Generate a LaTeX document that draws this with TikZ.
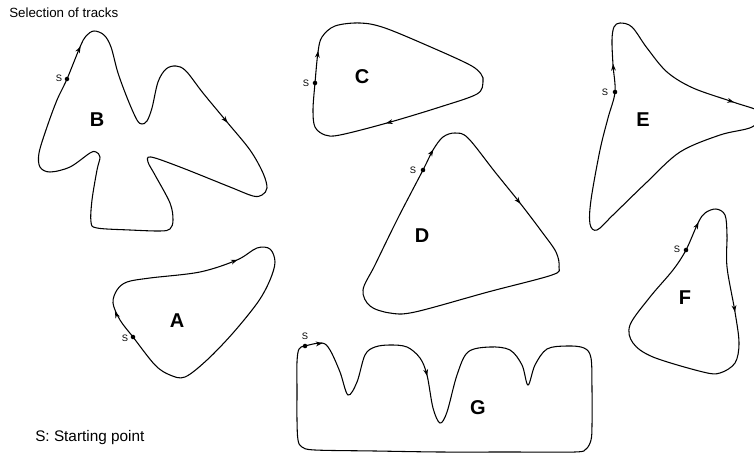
\documentclass[tikz,border=0pt]{standalone}
\usepackage{fontspec}
\setmainfont{Liberation Sans}
\usetikzlibrary{arrows.meta}

\begin{document}
\begin{tikzpicture}[
    % one unit = one pixel of the sheet, y pointing down
    x=0.75pt, y=-0.75pt,
    % closed outline of a track
    track/.style={
        draw=black,
        line width=0.8pt,
        smooth cycle,
        tension=0.55
    },
    % driving direction marks
    heading/.style={
        -{Stealth[length=5pt, width=3.6pt]},
        line width=0.8pt
    },
    % starting point dot and its letter
    startdot/.style={circle, fill=black, inner sep=0pt, minimum size=3.4pt},
    slabel/.style={font=\fontsize{7}{7}\selectfont, inner sep=0pt},
    % big letter naming a track
    trackname/.style={font=\bfseries\fontsize{15}{15}\selectfont},
    caption/.style={anchor=west, inner sep=0pt}
]
\useasboundingbox (0,0) rectangle (754,453);

% ==============================
% Titles
% ==============================
\node[caption, font=\fontsize{10}{10}\selectfont] (title) at (9,13) {Selection of tracks};
\node[caption, font=\fontsize{11.5}{11.5}\selectfont] (legend) at (35,438) {S: Starting point};

% ==============================
% Track B
% ==============================
\draw[track] plot coordinates {(67,79) (80,47) (86,36) (94,31) (104,35) (111,47)
    (118,73) (128,100) (137,120) (142,124) (147,121) (152,108) (158,82) (166,69)
    (176,66) (186,71) (203,93) (227,122) (250,150) (263,173) (267,188) (262,195)
    (253,196) (230,187) (180,167) (151,157) (148,162) (155,175) (170,203) (173,220)
    (170,229) (160,231) (130,230) (97,228) (91,222) (92,200) (97,170) (100,157)
    (96,152) (90,153) (70,167) (50,172) (40,167) (39,153) (47,127) (57,100)};
\node[startdot] (sB) at (67,79) {};
\node[slabel] at (59,78) {S};
\draw[heading] (78.5,50.5) -- (80.6,46.4);
\draw[heading] (224.5,119) -- (227.6,122.7);
\node[trackname] (labB) at (97,120) {B};

% ==============================
% Track A
% ==============================
\draw[track] plot coordinates {(133,337) (120,320) (113,303) (117,290) (127,282)
    (150,278) (200,272) (237,260) (257,248) (270,249) (275,262) (270,280)
    (258,302) (233,333) (207,360) (185,377) (170,375) (155,365)};
\node[startdot] (sA) at (133,337) {};
\node[slabel] at (125,338) {S};
\draw[heading] (116.8,315.5) -- (114.9,311.5);
\draw[heading] (233,261.5) -- (237.5,259.8);
\node[trackname] (labA) at (177,321) {A};

% ==============================
% Track C
% ==============================
\draw[track] plot coordinates {(315,83) (318,52) (322,37) (335,26) (360,23)
    (385,28) (433,48) (470,65) (481,74) (483,82) (477,94) (440,107) (387,123)
    (340,135) (325,135) (315,127) (313,110)};
\node[startdot] (sC) at (315,83) {};
\node[slabel] at (306,83) {S};
\draw[heading] (317.5,56) -- (318.2,51);
\draw[heading] (391,122) -- (386,123.3);
\node[trackname] (labC) at (362,77) {C};

% ==============================
% Track D
% ==============================
\draw[track] plot coordinates {(423,170) (433,150) (443,137) (455,133) (468,138)
    (495,172) (520,203) (542,232) (556,252) (559,267) (552,275) (488,292)
    (415,312) (390,313) (370,306) (363,290) (375,265) (398,218)};
\node[startdot] (sD) at (423,170) {};
\node[slabel] at (413,170) {S};
\draw[heading] (431,153.5) -- (433.3,149.6);
\draw[heading] (517.5,200) -- (520.5,203.8);
\node[trackname] (labD) at (422,236) {D};

% ==============================
% Track E
% ==============================
\draw[track] plot coordinates {(615,92) (613,65) (612,40) (614,27) (620,23)
    (632,27) (647,48) (667,72) (693,88) (733,102) (762,113) (752,127) (720,135)
    (680,152) (647,182) (613,215) (597,230) (590,224) (591,200) (600,150) (608,118)};
\node[startdot] (sE) at (615,92) {};
\node[slabel] at (605,92) {S};
\draw[heading] (613.4,69) -- (613.1,64);
\draw[heading] (729,100.7) -- (734,102.3);
\node[trackname] (labE) at (643,120) {E};

% ==============================
% Track F
% ==============================
\draw[track] plot coordinates {(686,250) (698,223) (705,213) (716,209) (725,215)
    (727,235) (727,267) (735,312) (739,343) (735,363) (720,373) (703,372)
    (653,357) (633,343) (630,325) (650,297) (673,270)};
\node[startdot] (sF) at (686,250) {};
\node[slabel] at (677,249) {S};
\draw[heading] (696.5,226.5) -- (698.6,222.4);
\draw[heading] (734.2,307) -- (735,312);
\node[trackname] (labF) at (685,298) {F};

% ==============================
% Track G
% ==============================
\draw[track] plot coordinates {(305,346) (322,343) (330,350) (340,372) (348,395)
    (357,382) (365,355) (375,347) (390,345) (407,347) (420,358) (427,375)
    (433,408) (440,423) (447,412) (457,375) (468,352) (490,347) (510,350)
    (522,365) (528,385) (535,365) (547,349) (567,346) (584,348) (591,358)
    (592,390) (592,425) (591,440) (586,449) (575,452) (510,452) (440,452)
    (375,451) (315,450) (302,447) (298,440) (297,420) (297,390) (297,362)
    (299,349)};
\node[startdot] (sG) at (305,346) {};
\node[slabel] at (305,336) {S};
\draw[heading] (317,343.8) -- (322.5,343.2);
\draw[heading] (426,371) -- (427.2,376);
\node[trackname] (labG) at (478,408) {G};

\end{tikzpicture}
\end{document}
